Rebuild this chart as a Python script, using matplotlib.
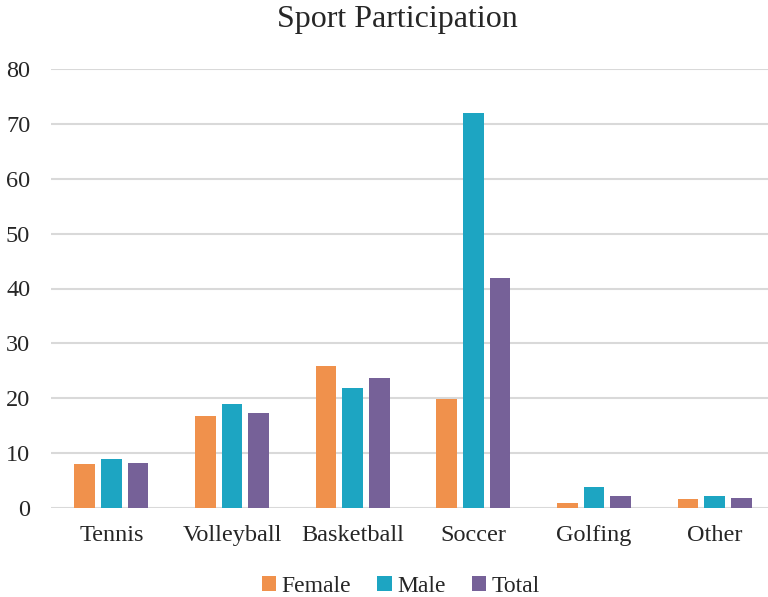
import numpy as np
import matplotlib.pyplot as plt

categories = ['Tennis', 'Volleyball', 'Basketball', 'Soccer', 'Golfing', 'Other']
female = [8.0, 16.8, 25.8, 19.8, 1.0, 1.6]
male = [9.0, 19.0, 21.8, 72.0, 3.9, 2.1]
total = [8.2, 17.3, 23.6, 42.0, 2.2, 1.8]
series = [('Female', female, '#F0914C'), ('Male', male, '#1DA5C2'), ('Total', total, '#766198')]

plt.rcParams['font.family'] = ['Liberation Serif', 'DejaVu Serif']

fig = plt.figure(figsize=(7.68, 5.97), dpi=100)
ax = fig.add_axes([51 / 768, 1 - 508 / 597, 724 / 768, (508 - 69) / 597])

x = np.arange(len(categories))
width = 0.174
step = 0.221
for i, (name, vals, color) in enumerate(series):
    ax.bar(x + (i - 1) * step, vals, width, color=color, label=name, zorder=3)

ax.set_xlim(-0.5, len(categories) - 0.5)
ax.set_ylim(0, 80)
ax.set_yticks(range(0, 81, 10))
ax.set_xticks(x)
ax.set_xticklabels(categories)
ax.grid(axis='y', color='#D9D9D9', linewidth=1.5, zorder=0)
for s in ax.spines.values():
    s.set_visible(False)
ax.tick_params(axis='both', length=0, labelsize=17.5, colors='#262626')
ax.tick_params(axis='y', pad=15)
ax.tick_params(axis='x', pad=12)

fig.text(397 / 768, 1 - 20 / 597, 'Sport Participation', ha='center', va='center',
         fontsize=23, color='#262626')

fig.legend(loc='center', bbox_to_anchor=(401 / 768, 1 - 586 / 597), ncol=3,
           frameon=False, fontsize=17, handlelength=0.6, handleheight=0.6,
           handletextpad=0.25, columnspacing=1.1, labelcolor='#262626')

fig.savefig('out.png', dpi=100)
